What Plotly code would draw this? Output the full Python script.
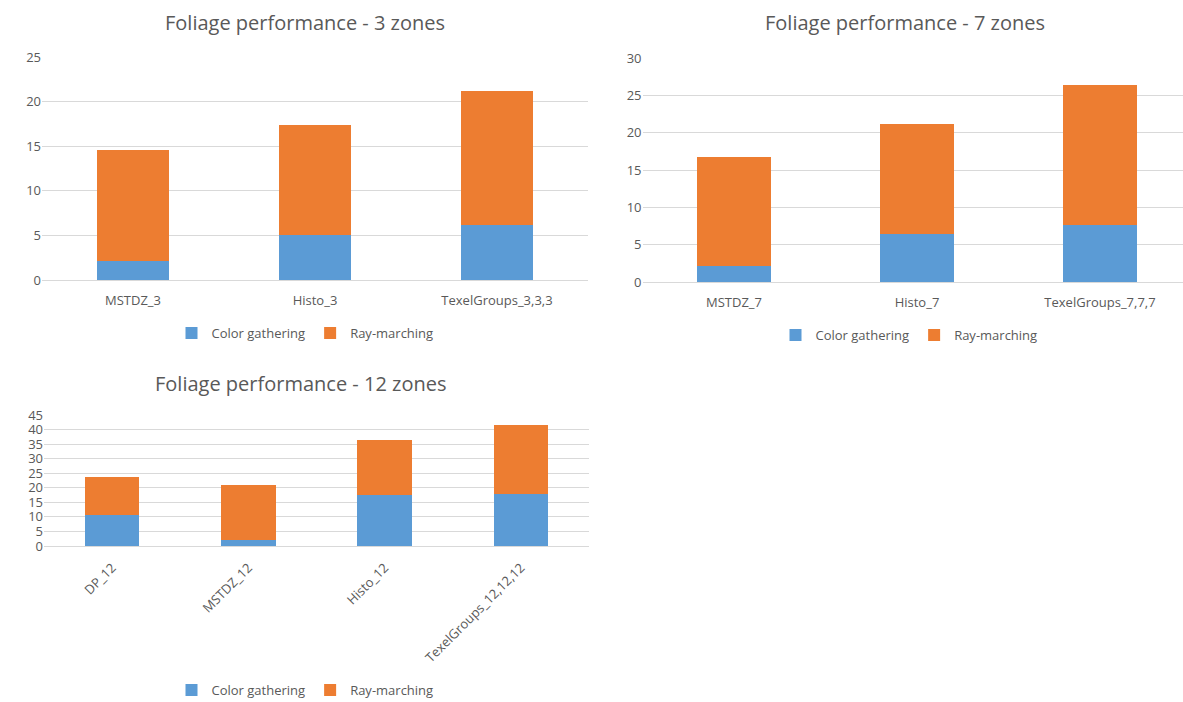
import plotly.graph_objects as go

# Render time per stage, three zone configurations
cats_3 = ["MSTDZ_3", "Histo_3", "TexelGroups_3,3,3"]
color_3 = [2.1, 5.0, 6.2]
ray_3 = [12.5, 12.4, 15.0]

cats_7 = ["MSTDZ_7", "Histo_7", "TexelGroups_7,7,7"]
color_7 = [2.2, 6.4, 7.6]
ray_7 = [14.6, 14.8, 18.8]

cats_12 = ["DP_12", "MSTDZ_12", "Histo_12", "TexelGroups_12,12,12"]
color_12 = [10.7, 2.1, 17.4, 17.7]
ray_12 = [12.9, 18.7, 19.1, 23.8]

titles = ["Foliage performance - 3 zones", "Foliage performance - 7 zones",
          "Foliage performance - 12 zones"]

BLUE = "#5b9bd5"
ORANGE = "#ed7d31"
GRID = "#d9d9d9"
TXT = "#595959"
FONT = "Open Sans"
W, H = 1183, 702

fig = go.Figure()

panels = [
    (cats_3, color_3, ray_3, "x", "y", "legend"),
    (cats_7, color_7, ray_7, "x2", "y2", "legend2"),
    (cats_12, color_12, ray_12, "x3", "y3", "legend3"),
]
for cats, cg, rm, xa, ya, lg in panels:
    fig.add_trace(go.Bar(x=cats, y=cg, name="Color gathering", marker_color=BLUE,
                         marker_line_width=0, xaxis=xa, yaxis=ya, legend=lg, width=0.4))
    fig.add_trace(go.Bar(x=cats, y=rm, name="Ray-marching", marker_color=ORANGE,
                         marker_line_width=0, xaxis=xa, yaxis=ya, legend=lg, width=0.4))


def px_x(v):
    return v / W


def px_y(v):
    return 1 - v / H


xcommon = dict(showgrid=False, showline=True, linecolor=GRID, linewidth=1,
               ticks="", tickfont=dict(family=FONT, size=13, color=TXT),
               ticklabelstandoff=8, fixedrange=True)
ycommon = dict(showgrid=True, gridcolor=GRID, gridwidth=1, zeroline=False,
               showline=False, ticks="", tickfont=dict(family=FONT, size=13, color=TXT),
               fixedrange=True)

legend_common = dict(orientation="h", xanchor="center", yanchor="middle",
                     traceorder="normal",
                     font=dict(family=FONT, size=13, color=TXT),
                     bgcolor="rgba(0,0,0,0)", itemwidth=30, tracegroupgap=0)

fig.update_layout(
    width=W, height=H,
    margin=dict(l=0, r=0, t=0, b=0, autoexpand=False),
    paper_bgcolor="white", plot_bgcolor="white",
    barmode="stack", bargap=0.6,
    showlegend=True,
    xaxis=dict(domain=[px_x(42), px_x(588)], anchor="y", range=[-0.5, 2.5], **xcommon),
    yaxis=dict(domain=[px_y(280), px_y(57)], anchor="x", range=[0, 25], dtick=5, **ycommon),
    xaxis2=dict(domain=[px_x(642.5), 1], anchor="y2", range=[-0.5, 2.5 - 8.5 / 183], **xcommon),
    yaxis2=dict(domain=[px_y(282), px_y(58)], anchor="x2", range=[0, 30], dtick=5, **ycommon),
    xaxis3=dict(domain=[px_x(44), px_x(589)], anchor="y3", range=[-0.5, 3.5],
                tickangle=-45, **xcommon),
    yaxis3=dict(domain=[px_y(546), px_y(415)], anchor="x3", range=[0, 45], dtick=5, **ycommon),
    legend=dict(x=px_x(305), y=px_y(333), **legend_common),
    legend2=dict(x=px_x(909), y=px_y(335), **legend_common),
    legend3=dict(x=px_x(305), y=px_y(690), **legend_common),
)

title_pos = [(305, 22), (905, 22), (300, 383)]
for t, (tx, ty) in zip(titles, title_pos):
    fig.add_annotation(text=t, x=px_x(tx), y=px_y(ty), xref="paper", yref="paper",
                       xanchor="center", yanchor="middle", showarrow=False,
                       font=dict(family=FONT, size=20, color=TXT))

fig.write_html("out.html")
